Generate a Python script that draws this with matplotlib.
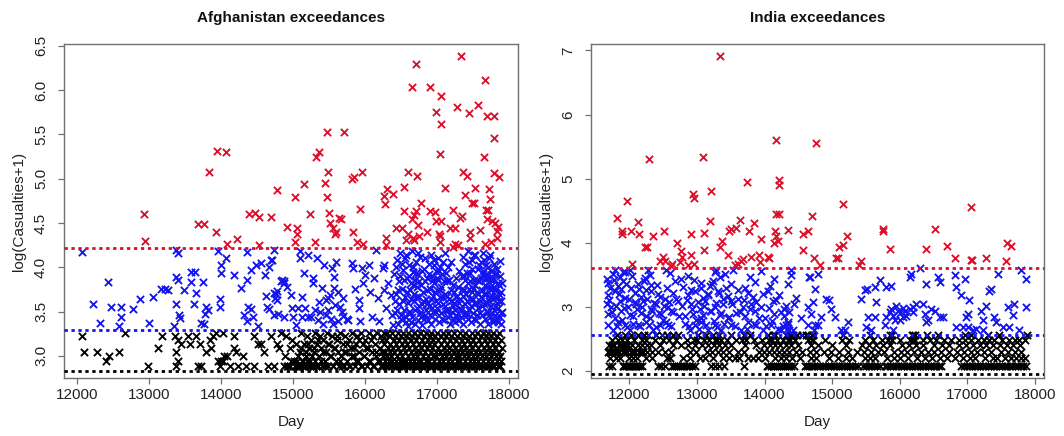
import numpy as np
import matplotlib
matplotlib.use("Agg")
import matplotlib.pyplot as plt

plt.rcParams['font.family'] = ['Liberation Sans', 'DejaVu Sans']

# ---------------- Afghanistan ----------------
# thresholds: log(17), log(27), log(68)
af_cuts = [2.833, 3.296, 4.220]

# red: above the top threshold (day, log(casualties+1))
af_red_day = [
    12925, 12940, 13677, 13762, 13926, 13828, 13936, 14067, 14076, 14217,
    14382, 14476, 14532, 14523, 14687, 14772, 14913, 15030, 15054, 15030,
    15054, 15148, 15228, 15307, 15322, 15354, 15448, 15472, 15486, 15472,
    15500, 15509, 15560, 15580, 15590, 15640, 15660, 15711, 15815, 15848,
    15838, 15932, 15956, 15885, 15965, 16260, 16270, 16308, 16388, 16285,
    16285, 16426, 16543, 16543, 16519, 16590, 16646, 16651, 16600, 16566,
    16660, 16707, 16717, 16707, 16684, 16730, 16778, 16684, 16754, 16858,
    16905, 16905, 16966, 16990, 16990, 17060, 17046, 17060, 17022, 17046,
    17046, 17107, 17060, 17177, 17224, 17248, 17224, 17248, 17283, 17330,
    17318, 17342, 17295, 17365, 17421, 17389, 17450, 17459, 17459, 17483,
    17516, 17530, 17563, 17600, 17647, 17671, 17685, 17704, 17694, 17671,
    17718, 17741, 17694, 17798, 17789, 17798, 17858, 17765, 17812, 17835,
    17845, 17751, 17835]
af_red_y = [
    4.60, 4.30, 4.49, 4.49, 4.40, 5.08, 5.31, 5.30, 4.26, 4.32,
    4.60, 4.61, 4.57, 4.25, 4.57, 4.87, 4.45, 4.79, 4.44, 4.29,
    4.38, 4.94, 4.60, 4.29, 5.25, 5.30, 4.95, 5.53, 5.08, 4.79,
    4.61, 4.50, 4.44, 4.37, 4.40, 4.56, 4.54, 5.53, 5.00, 5.02,
    4.40, 4.66, 5.08, 4.29, 4.26, 4.80, 4.71, 4.88, 4.83, 4.33,
    4.25, 4.44, 4.91, 4.63, 4.44, 5.08, 6.04, 4.54, 4.37, 4.31,
    4.33, 6.29, 5.03, 4.63, 4.59, 4.48, 4.72, 4.31, 4.35, 4.40,
    6.04, 4.63, 4.62, 4.52, 5.75, 5.93, 5.28, 5.62, 4.37, 4.35,
    4.29, 4.90, 4.52, 4.44, 4.65, 4.44, 4.23, 4.26, 5.81, 6.38,
    4.56, 4.58, 4.25, 5.08, 5.03, 4.82, 5.74, 4.40, 4.33, 4.73,
    4.73, 4.90, 5.83, 4.42, 5.25, 6.11, 4.65, 4.65, 4.54, 4.26,
    4.88, 4.77, 5.71, 5.71, 5.46, 5.06, 5.02, 4.52, 4.50, 4.41,
    4.46, 4.29, 4.33]

# blue: between middle and top threshold
af_blue_day = [
    12069, 12428, 12216, 12474, 12611, 12322, 12611, 12584, 12768, 12874,
    12998, 13057, 13163, 13218, 13255, 13379, 13402, 13379, 13402, 13366,
    13411, 13425, 13347, 13485, 13586, 13632, 13586, 13655, 13623, 13747,
    13715, 13761, 13793, 13816, 13779, 13963, 13991, 13991, 13977, 13977,
    14069, 14184, 14276, 14354, 14359, 14368, 14414, 14322, 14437, 14359,
    14414, 14483, 14552, 14607, 14667, 14699, 14515, 14621, 14635, 14667,
    14736, 14759, 14837, 14874, 14874, 14782,
    14734, 14711, 14772, 14734, 14743, 14790, 14852, 14875, 14913, 14970,
    14980, 15000, 15040, 15063, 15096, 15096, 15124, 15124, 15157, 15204,
    15204, 15251, 15171, 15275, 15275, 15330, 15359, 15400, 15430, 15450,
    15486, 15509, 15463, 15486, 15542, 15565, 15570, 15580, 15600, 15617,
    15627, 15674, 15697, 15744, 15767, 15824, 15838, 15862, 15909, 15918,
    15956, 15965, 15932, 16003, 16050, 16073, 16097, 16120, 16153, 16181,
    16190, 16247, 16261, 16261, 16285, 16322, 16355, 16380, 16388, 15380,
    15420, 15520, 15560, 15650, 15700, 15350, 15300,
    16405, 16418, 16432, 16440, 16452, 16466, 16478, 16490, 16502, 16515,
    16522, 16536, 16548, 16555, 16568, 16580, 16592, 16600, 16612, 16620,
    16628, 16640, 16648, 16655, 16668, 16676, 16684, 16692, 16700, 16710,
    16718, 16725, 16734, 16742, 16750, 16760, 16768, 16776, 16785, 16796,
    16808, 16820, 16832, 16845, 16858, 16870, 16884, 16895, 16905, 16914,
    16922, 16930, 16940, 16948, 16956, 16964, 16972, 16980, 16988, 16996,
    17004, 17012, 17020, 17028, 17036, 17044, 17052, 17060, 17070, 17080,
    17092, 17104, 17116, 17128, 17140, 17152, 17164, 17176, 17188, 17200,
    17210, 17222, 17234, 17246, 17258, 17270, 17282, 17294, 17306, 17318,
    17330, 17342, 17354, 17364, 17374, 17384, 17394, 17404, 17414, 17424,
    17434, 17444, 17454, 17464, 17474, 17484, 17494, 17504, 17514, 17524,
    17534, 17544, 17554, 17564, 17574, 17584, 17594, 17604, 17614, 17624,
    17634, 17644, 17652, 17660, 17668, 17676, 17684, 17692, 17700, 17708,
    17716, 17724, 17732, 17740, 17748, 17756, 17764, 17772, 17780, 17788,
    17796, 17804, 17812, 17820, 17828, 17836, 17844, 17852, 17860, 17868,
    17876, 17884, 17892, 17900,
    16412, 16426, 16447, 16460, 16484, 16496, 16508, 16528, 16542, 16562,
    16574, 16586, 16606, 16616, 16634, 16644, 16660, 16672, 16688, 16704,
    16714, 16730, 16746, 16756, 16772, 16790, 16802, 16814, 16826, 16838,
    16852, 16864, 16878, 16890, 16900, 16918, 16926, 16944, 16952, 16968,
    16984, 17000, 17016, 17032, 17048, 17064, 17076, 17086, 17098, 17110,
    17122, 17134, 17146, 17158, 17170, 17182, 17194, 17216, 17228, 17240,
    17252, 17264, 17276, 17288, 17300, 17312, 17324, 17336, 17348, 17358,
    17368, 17378, 17390, 17398, 17410, 17420, 17430, 17440, 17450, 17460,
    17470, 17480, 17490, 17500, 17510, 17520, 17530, 17540, 17550, 17560,
    17570, 17580, 17590, 17600, 17610, 17620, 17630, 17640, 17650, 17658,
    17666, 17674, 17682, 17690, 17698, 17706, 17714, 17722, 17730, 17738,
    17746, 17754, 17762, 17770, 17778, 17786, 17794, 17802, 17810, 17818,
    17826, 17834, 17842, 17850, 17858, 17866, 17874, 17882, 17890, 17898]
af_blue_y = [
    4.17, 3.83, 3.59, 3.55, 3.55, 3.37, 3.44, 3.34, 3.53, 3.64,
    3.37, 3.66, 3.76, 3.76, 3.74, 4.20, 4.16, 3.89, 3.86, 3.59,
    3.46, 3.43, 3.34, 3.74, 3.95, 3.95, 3.83, 3.71, 3.58, 3.83,
    3.37, 3.36, 3.55, 3.52, 3.47, 4.18, 4.03, 3.93, 3.64, 3.55,
    4.11, 3.91, 3.77, 4.17, 3.86, 3.55, 3.53, 3.46, 3.44, 3.39,
    3.97, 4.03, 4.05, 3.91, 4.00, 4.08, 3.34, 3.67, 3.55, 3.53,
    3.46, 3.70, 3.85, 3.85, 3.44, 3.63,
    4.20, 4.08, 3.73, 3.71, 3.65, 3.47, 3.86, 3.82, 3.78, 3.69,
    3.54, 3.44, 3.35, 3.54, 4.18, 4.10, 3.66, 3.44, 3.93, 4.14,
    3.44, 3.44, 3.54, 3.88, 3.82, 4.11, 3.61, 3.77, 4.03, 3.63,
    3.65, 3.69, 3.46, 3.52, 3.99, 3.89, 3.77, 3.57, 4.06, 3.72,
    3.39, 3.50, 3.65, 3.42, 3.40, 4.05, 3.99, 3.76, 3.63, 3.54,
    3.99, 3.82, 3.39, 3.91, 4.03, 3.72, 3.44, 3.88, 4.20, 3.65,
    3.39, 3.99, 4.03, 3.74, 3.54, 3.82, 3.69, 3.46, 3.35, 3.50,
    3.36, 3.42, 3.36, 3.55, 3.45, 3.40, 3.52,
    3.92, 3.48, 3.70, 4.08, 3.36, 3.84, 3.58, 4.16, 3.42, 3.76,
    3.97, 3.52, 3.66, 4.10, 3.38, 3.88, 3.60, 3.34, 4.02, 3.74,
    3.50, 3.82, 4.18, 3.44, 3.95, 3.62, 3.70, 3.36, 3.86, 4.06,
    3.54, 3.78, 3.40, 3.92, 3.66, 3.48, 4.12, 3.80, 3.58, 3.35,
    3.72, 3.98, 3.46, 3.64, 3.88, 3.40, 4.04, 3.56, 3.76, 3.36,
    4.14, 3.90, 3.68, 3.50, 3.82, 4.02, 3.42, 3.62, 3.96, 3.74,
    3.54, 4.10, 3.86, 3.38, 3.66, 4.00, 3.48, 3.78, 3.92, 3.58,
    3.40, 3.70, 4.16, 3.52, 3.84, 3.44, 3.64, 3.36, 3.74, 4.06,
    3.50, 3.42, 3.60, 3.38, 3.88, 3.46, 3.68, 3.40, 3.96, 3.54,
    3.44, 3.76, 4.12, 3.36, 3.90, 3.58, 4.04, 3.70, 3.46, 3.82,
    4.18, 3.52, 3.94, 3.64, 3.38, 4.08, 3.76, 3.48, 3.86, 3.60,
    4.14, 3.40, 3.72, 3.98, 3.54, 3.84, 3.36, 4.06, 3.66, 3.46,
    3.92, 4.16, 3.58, 3.80, 3.42, 4.02, 3.70, 3.50, 3.88, 3.36,
    4.10, 3.62, 3.78, 3.44, 3.96, 3.56, 3.68, 3.38, 3.86, 4.04,
    3.52, 3.74, 3.46, 3.92, 3.60, 3.40, 3.82, 3.54, 3.70, 3.44,
    4.07, 3.62, 3.36, 3.50,
    3.62, 4.00, 3.52, 3.74, 3.90, 3.46, 4.04, 3.62, 3.86, 3.44,
    4.14, 3.72, 3.50, 3.90, 3.64, 3.38, 4.00, 3.80, 3.52, 3.66,
    3.94, 4.16, 3.56, 3.84, 3.44, 3.96, 3.62, 3.42, 3.84, 4.10,
    3.52, 3.74, 3.60, 3.92, 3.46, 3.64, 3.54, 3.86, 4.08, 3.72,
    3.50, 3.88, 3.60, 3.96, 3.74, 3.42, 4.06, 3.66, 3.84, 3.56,
    3.94, 3.68, 4.00, 3.52, 3.86, 3.46, 3.62, 3.80, 3.56, 3.72,
    3.52, 3.66, 3.44, 3.78, 3.60, 3.40, 3.64, 3.52, 3.90, 3.68,
    3.46, 3.74, 3.86, 3.50, 3.94, 3.62, 3.42, 3.76, 4.06, 3.84,
    3.56, 3.72, 3.98, 3.64, 4.14, 3.42, 3.80, 3.60, 3.86, 3.46,
    3.70, 4.02, 3.62, 3.48, 3.88, 3.74, 3.56, 3.96, 3.70, 4.08,
    3.88, 3.60, 3.92, 3.78, 3.60, 4.00, 3.50, 3.88, 3.66, 4.14,
    3.74, 3.86, 3.48, 3.96, 3.64, 3.78, 3.40, 3.92, 3.66, 3.56,
    3.76, 3.98, 3.66, 3.38, 3.80, 3.62, 3.90, 3.48, 3.72, 3.82]

# black: between lowest and middle threshold, as casualty counts
af_low_day = [
    12060, 12092, 12276, 12400, 12437, 12584, 12667, 12979, 13126, 13172,
    13356, 13402, 13448, 13379, 13379, 13402, 13540, 13563, 13655, 13701,
    13678, 13724, 13793, 13839, 13862, 13885, 13931, 13954, 14000, 14046,
    14023, 14184, 14184, 14207, 14230, 14299, 14345, 14460, 14460, 14506,
    14552, 14598, 14644, 14690, 14736, 14782, 14828, 14874, 14805, 13980,
    14030, 14080, 14120,
    14890, 14905, 14930, 14950, 14960, 14985, 15010, 15020, 15035, 15050,
    15060, 15075, 15090, 15100, 15110, 15125, 15140, 15150, 15165, 15180,
    15195, 15205, 15220, 15240, 15255, 15270, 15285, 15300, 15310, 15325,
    15340, 15355, 15370, 15390, 15405, 15420, 15440, 15455, 15470, 15490,
    15505, 15520, 15540, 15555, 15570, 15590, 15605, 15620, 15640, 15655,
    15670, 15690, 15705, 15720, 15740, 15755, 15770, 15790, 15805, 15820,
    15840, 15855, 15870, 15890, 15905, 15920, 15940, 15955, 15970, 15990,
    16005, 16020, 16040, 16055, 16070, 16090, 16105, 16120, 16140, 16155,
    16170, 16185,
    14915, 14975, 15040, 15068, 15082, 15115, 15132, 15158, 15172, 15188,
    15212, 15230, 15262, 15292, 15318, 15348, 15382, 15412, 15448, 15478,
    15512, 15548, 15582, 15612, 15648, 15682, 15712, 15748, 15782, 15812,
    15848, 15880, 15912, 15948, 15980, 16012, 16048, 16080, 16112, 16148,
    16203, 16209, 16216, 16224, 16230, 16238, 16245, 16251, 16259, 16266,
    16273, 16280, 16288, 16294, 16302, 16309, 16316, 16322, 16330, 16337,
    16344, 16352, 16358, 16366, 16373, 16380, 16387, 16395, 16401, 16408,
    16416, 16423, 16430, 16437, 16444, 16452, 16459, 16466, 16473, 16480,
    16488, 16495, 16502, 16509, 16516, 16524, 16531, 16538, 16545, 16552,
    16560, 16567, 16574, 16581, 16588, 16596, 16603, 16610, 16617, 16624,
    16632, 16639, 16646, 16653, 16660, 16668, 16675, 16682, 16689, 16696,
    16704, 16711, 16718, 16725, 16732, 16740, 16747, 16754, 16761, 16768,
    16776, 16783, 16790, 16797, 16804, 16812, 16819, 16826, 16833, 16840,
    16848, 16855, 16862, 16869, 16876, 16884, 16891, 16898, 16905, 16912,
    16920, 16927, 16934, 16941, 16948, 16956, 16963, 16970, 16977, 16984,
    16992, 16999, 17006, 17013, 17020, 17028, 17035, 17042, 17049, 17056,
    17064, 17071, 17078, 17085, 17092, 17100, 17107, 17114, 17121, 17128,
    17136, 17143, 17150, 17157, 17164, 17172, 17179, 17186, 17193, 17200,
    17208, 17215, 17222, 17229, 17236, 17244, 17251, 17258, 17265, 17272,
    17280, 17287, 17294, 17301, 17308, 17316, 17323, 17330, 17337, 17344,
    17352, 17359, 17366, 17373, 17380, 17388, 17395, 17402, 17409, 17416,
    17424, 17431, 17438, 17445, 17452, 17460, 17467, 17474, 17481, 17488,
    17496, 17503, 17510, 17517, 17524, 17532, 17539, 17546, 17553, 17560,
    17568, 17575, 17582, 17589, 17596, 17604, 17611, 17618, 17625, 17632,
    17640, 17647, 17654, 17661, 17668, 17676, 17683, 17690, 17697, 17704,
    17712, 17719, 17726, 17733, 17740, 17748, 17755, 17762, 17769, 17776,
    17784, 17791, 17798, 17805, 17812, 17820, 17827, 17834, 17841, 17848,
    17856, 17863, 17870, 17877, 17884, 17892, 17899]
af_low_cas = [
    24, 20, 20, 18, 19, 20, 25, 17, 21, 24,
    24, 23, 22, 20, 17, 18, 24, 22, 24, 22,
    17, 17, 20, 23, 21, 24, 25, 18, 18, 19,
    25, 24, 21, 20, 17, 19, 17, 24, 17, 22,
    22, 20, 17, 24, 17, 22, 25, 17, 21, 17,
    18, 19, 17,
    19, 24, 17, 21, 17, 23, 18, 17, 22, 17,
    18, 17, 20, 17, 25, 18, 17, 22, 17, 19,
    24, 17, 21, 18, 23, 17, 20, 25, 18, 22,
    17, 19, 24, 21, 17, 23, 18, 20, 25, 17,
    22, 19, 24, 17, 21, 18, 23, 20, 17, 25,
    19, 22, 17, 24, 20, 18, 23, 17, 21, 25,
    19, 17, 22, 24, 18, 20, 25, 17, 22, 19,
    23, 17, 21, 25, 18, 20, 24, 17, 22, 19,
    25, 18,
    17, 18, 17, 19, 17, 21, 18, 17, 20, 18,
    22, 17, 19, 21, 17, 23, 18, 20, 17, 22,
    19, 17, 21, 24, 18, 17, 20, 22, 17, 19,
    21, 18, 23, 17, 19, 21, 18, 23, 17, 20,
    21, 18, 24, 17, 20, 23, 19, 17, 25, 22,
    18, 20, 17, 23, 19, 25, 21, 17, 18, 24,
    20, 22, 17, 19, 25, 18, 21, 23, 17, 20,
    24, 18, 22, 17, 19, 25, 21, 17, 23, 18,
    20, 24, 17, 22, 19, 25, 18, 21, 17, 23,
    20, 18, 24, 17, 22, 19, 25, 21, 17, 18,
    23, 20, 17, 24, 19, 22, 18, 25, 17, 21,
    20, 23, 17, 19, 24, 18, 22, 17, 25, 20,
    21, 18, 23, 17, 19, 24, 22, 17, 20, 25,
    18, 21, 17, 23, 19, 22, 18, 24, 17, 20,
    25, 21, 17, 19, 23, 18, 22, 17, 24, 20,
    19, 25, 17, 21, 23, 18, 20, 17, 24, 22,
    19, 17, 25, 18, 21, 23, 17, 20, 24, 19,
    22, 17, 18, 25, 21, 20, 17, 23, 19, 24,
    18, 22, 17, 20, 25, 21, 17, 19, 23, 18,
    24, 20, 17, 22, 19, 25, 18, 21, 17, 23,
    20, 24, 17, 19, 22, 18, 25, 21, 17, 20,
    23, 19, 17, 24, 22, 18, 20, 17, 25, 21,
    19, 23, 17, 18, 24, 22, 20, 17, 25, 19,
    21, 18, 23, 17, 20, 24, 22, 17, 19, 25,
    18, 21, 17, 23, 20, 24, 19, 17, 22, 18,
    25, 21, 17, 20, 23, 19, 24, 17, 18, 22,
    25, 20, 17, 21, 23, 19, 18, 24, 17, 22,
    20, 25, 17, 19, 23, 18, 21]

# ---------------- India ----------------
# thresholds: log(7), log(13), log(37)
ind_cuts = [1.946, 2.565, 3.611]

ind_red_day = [
    13340, 12290, 13090, 14175, 14760, 11960, 13215, 12940, 12950, 13740,
    14210, 14210, 15160, 17060, 11815, 12125, 11885, 11885, 12025, 12135,
    12350, 12225, 12265, 12510, 12500, 12525, 12035, 12700, 12765, 12775,
    12625, 12910, 12915, 12950, 13100, 13100, 13200, 13335, 13375, 13460,
    13475, 13500, 13575, 13640, 13610, 13675, 13775, 13800, 13850, 13950,
    13915, 14060, 14135, 14160, 14175, 14210, 14165, 14200, 14350, 14565,
    14565, 14650, 14700, 14735, 14825, 15060, 15090, 15100, 15165, 15225,
    15400, 15425, 15760, 15760, 15850, 16390, 16525, 16700, 16815, 17050,
    17075, 17275, 17575, 17590, 17650, 12450, 12620, 12745, 12870, 13560,
    13655, 13930, 14050]
ind_red_y = [
    6.91, 5.30, 5.34, 5.60, 5.55, 4.65, 4.80, 4.76, 4.69, 4.94,
    4.98, 4.90, 4.61, 4.56, 4.39, 4.33, 4.19, 4.14, 4.19, 4.13,
    4.11, 3.93, 3.93, 4.19, 3.77, 3.71, 3.67, 4.00, 3.87, 3.77,
    3.67, 4.13, 3.81, 3.67, 4.15, 3.88, 4.34, 3.93, 4.02, 3.81,
    4.19, 4.22, 4.23, 4.35, 3.67, 3.75, 4.19, 3.78, 4.31, 4.06,
    3.81, 3.76, 4.00, 4.18, 4.45, 4.45, 4.10, 4.02, 4.20, 4.14,
    3.88, 4.19, 4.41, 3.76, 3.66, 3.76, 3.76, 3.94, 3.97, 4.11,
    3.66, 3.72, 4.22, 4.19, 3.90, 3.90, 4.22, 3.95, 3.76, 3.73,
    3.73, 3.76, 3.72, 3.99, 3.95, 3.72, 3.64, 3.70, 3.66, 3.66,
    3.72, 3.70, 3.78]

ind_blue_day = [
    11780, 12006, 12276, 12547, 13286, 13532, 14394, 14665,
    11670, 11759, 11858, 11932, 12227, 12301, 12596, 12769, 12867, 13261,
    13335, 13409, 13778, 13950, 14147, 14394,
    11680, 11833, 11907, 12030, 12129, 12326, 12670, 12793, 13064, 13187,
    13237, 13507, 13704, 13852, 14074, 14344,
    11685, 11784, 11932, 12079, 12178, 12252, 12424, 12523, 12646, 12867,
    12966, 13089, 13163, 13310, 13458, 13606, 13754, 13828, 14049, 14221,
    14468,
    11670, 11735, 11858, 11981, 12104, 12202, 12326, 12399, 12572, 12719,
    12916, 13040, 13113, 13261, 13384, 13507, 13680, 13803, 13950, 14123,
    14295, 14443, 14640,
    11680, 11784, 11882, 12055, 12178, 12301, 12473, 12621, 12818, 12941,
    13064, 13212, 13335, 13458, 13581, 13704, 13852, 14000, 14147, 14295,
    14369, 14541,
    11685, 11759, 11833, 11932, 12006, 12129, 12252, 12350, 12449, 12572,
    12892, 12966, 13064, 13163, 13261, 13360, 13507, 13655, 13754, 13877,
    13975, 14098, 14246, 14320, 14344, 14418, 14640, 14738,
    11700, 11720, 11745, 11770, 11800, 11810, 11845, 11870, 11895, 11905,
    11920, 11950, 11965, 11990, 12015, 12040, 12060, 12090, 12110, 12140,
    12160, 12190, 12215, 12240, 12265, 12290, 12315, 12340, 12365, 12390,
    12410, 12440, 12460, 12490, 12510, 12540, 12560, 12590, 12610, 12650,
    12690, 12740, 12780, 12830,
    12850, 12880, 12905, 12930, 12960, 12985, 13010, 13035, 13060, 13085,
    13110, 13140, 13170, 13195, 13220, 13250, 13275, 13300, 13325, 13350,
    13380, 13405, 13430, 13470, 13520, 13560, 13600, 13640, 13690, 13740,
    13790, 13840, 13880, 13920, 13980, 14020, 14060, 14110, 14170, 14200,
    14240, 14280, 14310, 14330, 14350, 14360,
    14669, 14743, 14792, 14718, 14915, 14955, 14989, 14694, 14841, 15038,
    14743, 14792, 15137, 15186, 15235, 15432, 15481, 15516, 15629, 15703,
    15792, 15875, 15654, 15531, 15629, 15506, 15580, 15802, 15777, 15875,
    15949, 15900, 15974, 16072, 16146, 15998, 16048, 16195, 16245, 16171,
    16294, 16146, 16392, 16368, 16343, 16466, 16516, 16589, 16639, 16565,
    16589, 16392, 16417, 16811, 16959, 16836, 16910, 17032, 17008, 16983,
    16836, 16934, 17008, 17082, 17353, 17328, 17279, 17205, 17230, 17402,
    17427, 17451, 17525, 17599, 17673, 17697, 17796, 17870, 17870, 17623,
    17771, 17230, 17131, 15850, 15900, 15930, 16000, 16100, 16050, 16200]
ind_blue_y = [
    3.58, 3.58, 3.58, 3.58, 3.57, 3.58, 3.58, 3.47,
    3.43, 3.52, 3.47, 3.55, 3.45, 3.50, 3.53, 3.44, 3.48, 3.55,
    3.46, 3.51, 3.47, 3.56, 3.44, 3.50,
    3.37, 3.33, 3.40, 3.30, 3.36, 3.34, 3.40, 3.31, 3.37, 3.33,
    3.40, 3.35, 3.30, 3.38, 3.32, 3.36,
    3.18, 3.24, 3.14, 3.22, 3.16, 3.26, 3.20, 3.13, 3.22, 3.18,
    3.25, 3.14, 3.20, 3.24, 3.17, 3.13, 3.22, 3.16, 3.25, 3.19,
    3.14,
    3.04, 2.99, 3.09, 3.00, 3.05, 3.09, 2.97, 3.04, 3.00, 3.09,
    3.04, 2.97, 3.09, 3.00, 3.05, 3.09, 2.99, 3.04, 3.00, 3.09,
    2.97, 3.04, 3.00,
    2.89, 2.83, 2.94, 2.85, 2.91, 2.83, 2.89, 2.94, 2.85, 2.89,
    2.83, 2.94, 2.87, 2.83, 2.91, 2.85, 2.94, 2.83, 2.89, 2.85,
    2.92, 2.83,
    2.71, 2.64, 2.77, 2.71, 2.64, 2.71, 2.77, 2.64, 2.71, 2.71,
    2.64, 2.71, 2.77, 2.64, 2.71, 2.64, 2.71, 2.64, 2.77, 2.71,
    2.64, 2.71, 2.64, 2.71, 2.77, 2.64, 2.71, 2.64,
    3.10, 3.30, 2.92, 3.42, 3.02, 2.70, 3.20, 3.28, 2.80, 3.55,
    2.98, 3.36, 2.68, 3.12, 2.88, 3.48, 2.74, 3.08, 2.96, 3.28,
    2.70, 3.00, 3.40, 2.86, 3.12, 2.72, 3.24, 2.94, 3.06, 2.68,
    3.34, 2.90, 3.15, 2.80, 3.02, 2.76, 3.30, 3.08, 2.70, 2.92,
    3.12, 2.86, 3.02, 2.74,
    3.10, 2.70, 3.26, 2.96, 3.42, 2.80, 3.08, 2.66, 3.30, 2.88,
    3.02, 2.72, 3.18, 2.94, 3.36, 2.78, 3.06, 2.68, 3.22, 2.90,
    3.12, 2.74, 3.30, 2.84, 3.04, 2.70, 3.26, 2.92, 3.10, 2.66,
    2.96, 2.74, 3.08, 2.82, 3.20, 2.70, 2.98, 2.78, 3.10, 2.66,
    2.92, 2.70, 3.02, 2.66, 2.74, 2.64,
    3.47, 3.28, 3.52, 3.07, 3.13, 3.10, 2.97, 2.89, 2.84, 2.84,
    2.71, 2.71, 2.64, 2.64, 2.76, 3.13, 3.26, 3.28, 3.31, 3.42,
    3.31, 3.32, 3.07, 2.84, 2.84, 2.68, 2.64, 2.84, 2.71, 2.97,
    3.02, 2.64, 2.94, 2.94, 2.97, 2.79, 2.84, 3.00, 3.05, 3.52,
    3.60, 3.47, 3.36, 2.89, 3.05, 2.97, 2.94, 2.84, 2.84, 3.47,
    3.39, 2.76, 2.79, 3.49, 3.44, 3.31, 3.18, 3.10, 2.89, 2.84,
    2.68, 2.68, 2.68, 2.64, 3.28, 3.25, 3.02, 2.94, 2.79, 2.84,
    2.76, 3.52, 2.68, 3.00, 2.87, 3.05, 3.57, 3.44, 3.00, 2.68,
    2.64, 2.64, 2.65, 2.92, 2.86, 2.80, 2.90, 2.86, 2.98, 2.92]

# black rows, one list of days per casualty count (7..12)
ind_low_c7 = [
    11700, 11742, 11903, 11926, 11948, 11975, 12001, 12027, 12049, 12078,
    12101, 12128, 12162, 12188, 12421, 12468, 12532, 12628, 12661, 12690,
    12722, 12749, 12783, 12808, 12852, 12888, 12931, 12968, 13201, 13262,
    13328, 13402, 13700, 14031, 14058, 14092, 14118, 14151, 14179, 14212,
    14238, 14271, 14302, 14329, 14361, 14388, 14432, 14602, 14628, 14664,
    14701, 14738, 14782, 14819, 14861, 14898, 14942, 14979, 15021, 15058,
    15102, 15139, 15181, 15218, 15262, 15299, 15341, 15378, 15461, 15498,
    15542, 15579, 15621, 15658, 15702, 15781, 15818, 15862, 15899, 15941,
    15978, 16022, 16059, 16101, 16138, 16182, 16219, 16261, 16298, 16342,
    16379, 16421, 16458, 16502, 16539, 16581, 16618, 16912, 16948, 16991,
    17028, 17072, 17109, 17151, 17188, 17232, 17269, 17311, 17348, 17392,
    17429, 17471, 17508, 17552, 17589, 17631, 17668, 17712, 17749, 17791,
    17828, 17862]
ind_low_c8 = [
    11720, 11800, 11860, 11990, 12060, 12110, 12240, 12330, 12560, 12600,
    12800, 12900, 13050, 13120, 13240, 13380, 13480, 13560, 13620, 13760,
    13830, 13900, 14000, 14160, 14250, 14320, 14410, 14520, 14680, 14760,
    14950, 15090, 15210, 15290, 15480, 15560, 15640, 15810, 15920, 16010,
    16130, 16250, 16370, 16480, 16600, 16700, 16820, 16930, 17040, 17120,
    17260, 17380, 17440, 17560, 17640, 17720, 17800, 17860]
ind_low_c9 = [
    11680, 11712, 11738, 11791, 11822, 11849, 11906, 11933, 11968, 12022,
    12051, 12079, 12138, 12171, 12202, 12268, 12342, 12418, 12521, 12617,
    12898, 12989, 13148, 13228, 13309, 13388, 13472, 13602, 13701, 13912,
    13991, 14061, 14142, 14211, 14288, 14368, 14468, 14561, 14668, 14758,
    14879, 14981, 15098, 15232, 15372, 15469, 15571, 15672, 15768, 15921,
    16012, 16111, 16208, 16312, 16419, 16512, 16608, 16722, 16851, 16952,
    17048, 17149, 17252, 17348, 17501, 17598, 17702, 17801]
ind_low_c10 = [
    11700, 11745, 11776, 11841, 11869, 11914, 11951, 11982, 12039, 12126,
    12189, 12254, 12322, 12452, 12641, 12758, 12872, 12971, 13079, 13168,
    13251, 13331, 13409, 13502, 13718, 13869, 13998, 14079, 14158, 14232,
    14311, 14389, 14492, 14681, 14798, 15001, 15202, 15441, 15551, 15652,
    15749, 15861, 16041, 16141, 16238, 16339, 16502, 16621, 16731, 16882,
    16981, 17082, 17181, 17282, 17381, 17482, 17581, 17682, 17781]
ind_low_c11 = [
    11750, 11830, 11890, 11960, 12070, 12180, 12250, 12380, 12500, 12580,
    12690, 12850, 12950, 13000, 13100, 13180, 13260, 13300, 13360, 13440,
    13580, 13660, 13730, 13850, 13960, 14070, 14110, 14190, 14280, 14340,
    14380, 14450, 14640, 14700, 14720, 14900, 15150, 15250, 15480, 15610,
    15740, 15830, 15880, 16000, 16150, 16200, 16220, 16350, 16450, 16540,
    16650, 16760, 16870, 16960, 17060, 17160, 17240, 17320, 17400, 17520,
    17610, 17700, 17760, 17850]
ind_low_c12 = [
    11820, 11940, 12030, 12130, 12210, 12270, 12400, 12480, 12560, 12640,
    12720, 13010, 13140, 13240, 13320, 13510, 13690, 13780, 14050, 14120,
    14150, 14310, 14370, 14420, 14480, 14550, 14620, 14650, 14700, 14720,
    15160, 15560, 15860, 15880, 16180, 16200, 16220, 16400, 16560, 16960,
    17050, 17300, 17470, 17880]

RED = '#dc0f2a'
BLUE = '#1414ee'
FRAME = '#707070'

ind_rows = [ind_low_c7, ind_low_c8, ind_low_c9, ind_low_c10, ind_low_c11, ind_low_c12]
ind_low_day = [d for row in ind_rows for d in row]
ind_low_cas = [c for c, row in zip(range(7, 13), ind_rows) for _ in row]


def draw_panel(ax, title, red, blue, low, cuts, xlim, ylim, yticks, ylabels):
    groups = [(low, 'black'), (blue, BLUE), (red, RED)]
    for (xs, ys), col in groups:
        ax.scatter(xs, ys, marker='x', s=27, linewidths=1.35, color=col, zorder=3)
    for level, col in zip(cuts, ['black', BLUE, RED]):
        ax.axhline(level, color=col, lw=2.0, ls=(0, (1.2, 1.3)), zorder=4)
    ax.set_xlim(*xlim)
    ax.set_ylim(*ylim)
    ax.set_xticks([12000, 13000, 14000, 15000, 16000, 17000, 18000])
    ax.set_yticks(yticks)
    ax.set_yticklabels(ylabels, rotation=90, va='center')
    ax.tick_params(direction='out', length=4.5, width=0.9, color=FRAME,
                   labelsize=11, labelcolor='#222222', pad=3)
    ax.tick_params(axis='y', pad=7)
    for sp in ax.spines.values():
        sp.set_color(FRAME)
        sp.set_linewidth(1.0)
    ax.set_title(title, fontsize=11, fontweight='bold', pad=16, color='#111111')
    ax.set_xlabel('Day', fontsize=11, labelpad=9, color='#222222')
    ax.set_ylabel('log(Casualties+1)', fontsize=11, labelpad=6, color='#222222')


fig = plt.figure(figsize=(10.64, 4.36), dpi=100)
ax1 = fig.add_axes([64 / 1064, 58 / 436, 454 / 1064, 334 / 436])
ax2 = fig.add_axes([591 / 1064, 58 / 436, 453 / 1064, 334 / 436])

draw_panel(ax1, 'Afghanistan exceedances',
           (af_red_day, af_red_y), (af_blue_day, af_blue_y),
           (af_low_day, np.log(np.array(af_low_cas) + 1)),
           af_cuts, (11816, 18125), (2.75, 6.52),
           [3.0, 3.5, 4.0, 4.5, 5.0, 5.5, 6.0, 6.5],
           ['3.0', '3.5', '4.0', '4.5', '5.0', '5.5', '6.0', '6.5'])

draw_panel(ax2, 'India exceedances',
           (ind_red_day, ind_red_y), (ind_blue_day, ind_blue_y),
           (ind_low_day, np.log(np.array(ind_low_cas) + 1)),
           ind_cuts, (11432, 18135), (1.89, 7.10),
           [2, 3, 4, 5, 6, 7], ['2', '3', '4', '5', '6', '7'])

fig.savefig('out.png', dpi=100)
